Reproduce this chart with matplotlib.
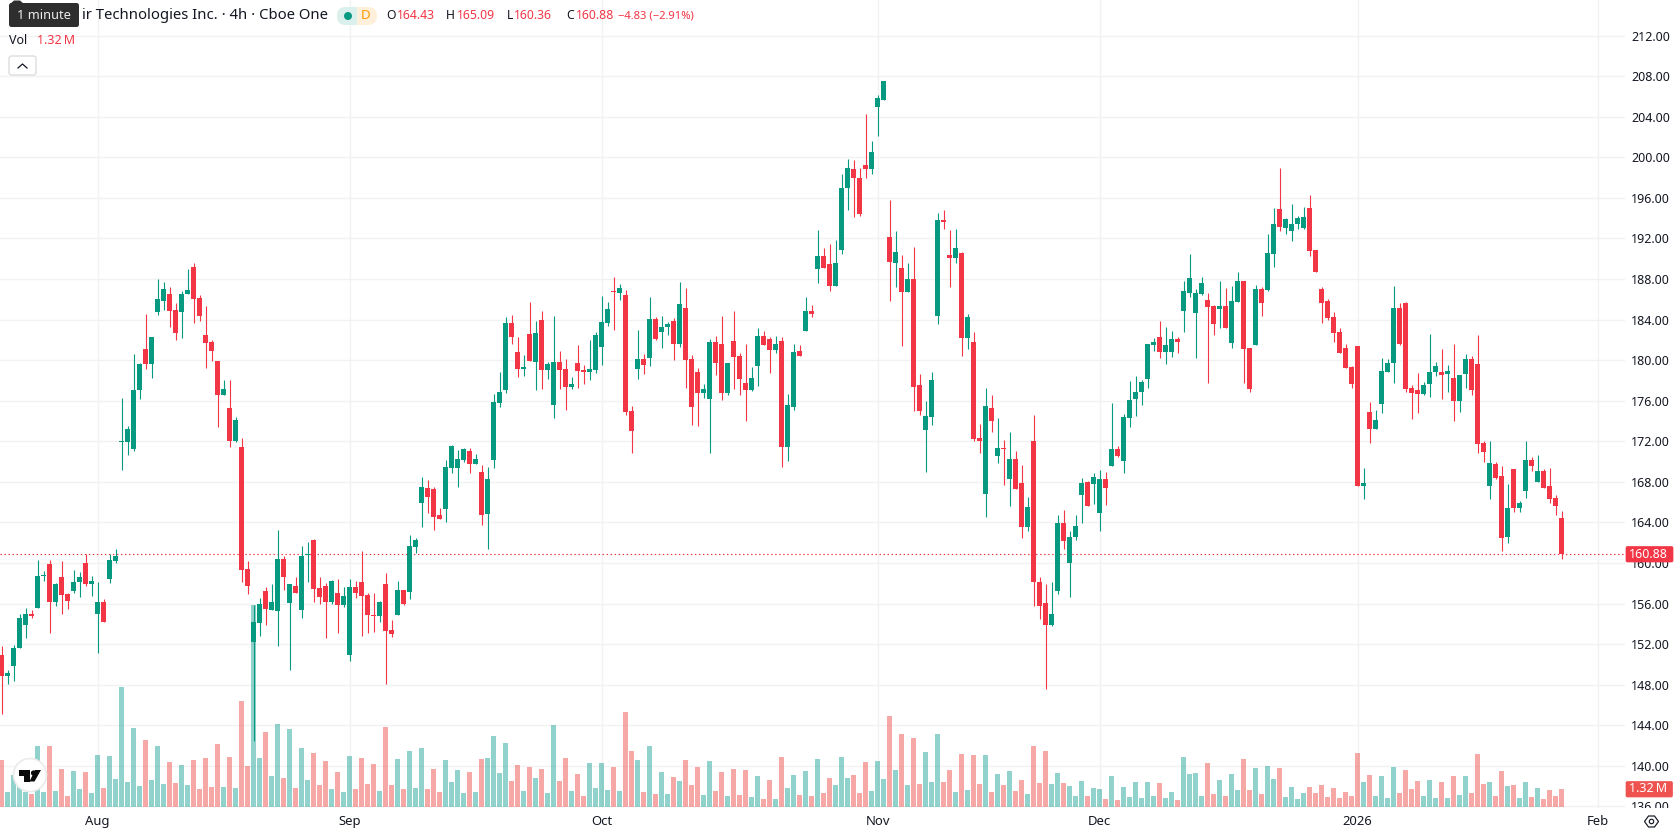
import numpy as np
import matplotlib
matplotlib.use("Agg")
import matplotlib.pyplot as plt
from matplotlib.patches import Rectangle, Circle, FancyBboxPatch, Polygon
from matplotlib.lines import Line2D
from matplotlib.transforms import Affine2D, Bbox

plt.rcParams['font.family'] = ['Noto Sans', 'DejaVu Sans']

W, H = 1678, 835

opens = [
    150.95,148.9,149.8,151.6,153.9,154.95,155.55,158.7,159.85,156.15,
    158.65,156.9,157.2,158.15,159.95,157.9,154.95,156.15,158.45,160.2,
    171.88,171.95,171.25,177.05,181.1,179.65,184.75,185.85,186.55,184.95,
    184.75,186.55,189.15,186.15,182.5,181.8,179.95,176.55,175.3,172.05,
    171.45,159.45,152.25,154.05,157.2,155.35,155.25,160.4,156.05,157.75,
    155.35,160.78,162.3,157.5,157.7,156.2,157.0,155.9,150.95,157.6,
    158.1,156.8,154.85,154.75,157.9,153.4,154.85,157.3,157.1,161.6,
    165.95,167.35,167.25,164.7,165.3,169.4,169.4,170.15,171.05,169.75,
    169.0,164.8,170.15,175.75,177.05,183.65,180.8,179.15,182.6,179.85,
    183.95,179.05,175.55,179.85,179.15,177.35,179.7,179.05,178.85,179.05,
    181.3,183.65,186.8,186.6,186.45,174.95,179.15,180.15,180.25,184.05,
    182.75,183.25,183.85,181.6,185.15,180.15,178.85,176.8,176.15,181.8,
    181.6,176.75,181.9,180.45,177.75,177.05,179.45,182.4,182.1,181.0,
    181.9,171.45,175.35,180.9,182.9,184.85,189.0,190.3,189.5,187.35,
    190.9,197.0,198.8,198.0,199.25,198.8,205.0,205.65,192.15,189.6,
    189.1,186.75,188.0,177.5,173.1,174.4,184.4,193.8,190.4,190.1,
    190.55,182.15,181.8,172.35,166.85,175.25,170.55,171.25,168.25,170.25,
    167.85,163.55,172.05,158.15,156.05,153.85,157.25,163.9,159.95,162.6,
    166.75,167.95,167.75,164.9,168.25,169.55,171.25,170.05,174.25,176.2,
    176.85,178.15,181.45,182.25,180.85,180.85,182.05,184.85,186.65,184.65,
    186.55,185.95,185.35,185.05,185.35,181.65,185.75,187.85,181.15,181.45,
    187.05,186.95,190.45,194.95,193.0,192.75,193.4,193.0,195.0,190.85,
    187.05,185.85,184.3,182.75,181.2,179.35,181.4,167.55,174.85,173.25,
    175.65,178.85,179.75,185.15,185.65,177.3,177.1,176.7,177.65,178.85,
    178.85,178.65,178.25,175.95,178.65,180.15,179.65,171.85,167.55,169.75,
    168.55,162.6,169.3,165.4,167.1,170.15,167.95,169.05,167.55,166.4,164.43,
]
closes = [
    148.9,149.2,151.65,154.55,154.95,154.75,158.75,158.75,156.15,157.9,
    156.8,156.25,158.15,158.65,157.9,158.25,156.15,154.2,160.3,160.7,
    171.92,173.2,177.05,179.65,179.65,182.3,186.05,187.05,184.85,182.7,
    186.55,186.95,186.05,184.35,181.7,180.9,176.55,177.15,172.05,174.1,
    159.35,157.7,154.2,156.0,155.45,156.2,160.4,158.65,157.9,157.05,
    160.7,160.82,157.4,156.6,156.2,158.2,155.9,156.7,157.6,157.0,
    156.7,154.85,154.8,156.15,153.3,153.0,157.3,156.0,161.7,162.3,
    167.45,166.55,164.5,164.3,169.5,171.5,170.25,171.25,169.75,170.25,
    164.7,168.25,175.85,176.9,183.65,182.25,179.15,179.35,179.95,182.7,
    179.05,179.65,179.85,179.05,177.35,177.65,178.95,178.85,179.15,182.5,
    183.8,185.0,186.75,187.15,174.85,173.0,180.15,179.55,184.05,182.1,
    183.25,183.55,181.6,185.55,180.05,175.35,176.75,177.2,181.8,179.75,
    176.75,179.75,180.35,178.1,177.05,178.25,182.4,181.5,181.0,181.6,
    171.45,175.55,180.8,180.4,184.85,184.55,190.3,189.1,187.35,189.6,
    197.0,198.9,198.0,194.45,198.8,200.55,205.85,207.55,189.7,190.65,
    186.75,188.0,177.4,174.95,174.5,178.05,193.8,193.6,190.1,191.05,
    182.15,184.25,172.25,172.05,175.45,173.95,171.35,171.2,170.25,167.25,
    163.55,165.5,158.15,155.75,153.85,154.95,163.9,162.15,162.6,163.6,
    167.85,165.65,168.45,168.25,167.35,171.25,170.55,174.35,176.1,176.9,
    177.85,181.55,181.75,180.85,181.45,182.05,181.75,186.85,188.05,186.65,
    187.65,185.25,183.55,185.35,183.15,185.85,187.85,181.05,177.2,187.05,
    185.65,190.55,193.4,193.1,193.9,193.4,194.0,194.1,190.75,188.7,
    185.65,184.15,182.65,180.7,179.25,177.65,167.55,167.85,173.25,174.05,
    178.95,179.75,185.15,181.6,177.2,176.8,176.7,177.55,178.85,179.45,
    178.55,178.95,175.95,178.55,180.15,177.1,171.75,170.95,169.85,168.35,
    162.5,165.4,165.4,165.9,170.15,169.55,169.05,167.35,166.3,165.6,160.88,
]
highs = [
    151.85,149.45,151.95,155.0,155.6,155.35,160.3,159.2,160.25,158.0,
    160.15,157.0,159.35,159.15,160.9,158.75,158.15,156.4,160.9,161.4,
    176.3,173.5,180.6,179.75,184.5,182.3,188.0,187.75,187.25,185.65,
    186.85,188.95,189.55,186.45,185.35,182.0,179.95,178.05,178.0,174.4,
    172.35,160.15,155.85,156.5,157.6,157.95,163.25,160.7,157.9,158.65,
    161.7,162.1,162.35,158.65,158.0,158.3,158.45,157.6,158.4,158.2,
    161.15,157.0,157.0,156.25,159.0,154.4,158.25,157.3,162.75,162.5,
    168.5,168.15,167.45,165.4,170.2,171.6,171.15,171.35,171.35,170.75,
    169.7,169.5,176.65,178.8,184.3,184.45,182.25,180.55,185.75,183.9,
    184.85,179.85,184.35,180.9,180.15,178.3,181.5,179.55,182.0,182.8,
    186.35,185.75,188.2,187.5,186.9,175.45,183.0,180.65,186.25,184.25,
    184.35,183.75,184.15,187.7,187.1,180.55,179.25,177.6,182.1,182.4,
    184.35,179.75,184.85,180.75,181.6,179.35,183.2,182.9,182.3,182.4,
    182.3,176.65,181.6,181.5,186.25,185.45,192.8,191.05,191.45,191.85,
    198.4,199.85,199.75,198.95,204.25,201.6,206.15,207.55,195.75,192.7,
    190.4,189.6,191.2,178.6,175.95,178.85,194.5,194.8,192.85,192.95,
    190.65,184.55,182.75,173.7,177.3,176.6,174.3,172.15,172.9,171.05,
    169.65,166.5,174.6,158.65,157.9,158.1,164.7,165.2,163.2,164.7,
    168.35,168.05,168.85,169.15,168.95,175.8,171.55,174.65,177.9,178.4,
    178.0,181.55,182.15,183.85,183.25,182.85,182.25,187.85,190.5,187.05,
    188.15,186.65,185.45,187.85,187.15,187.3,188.65,187.85,181.15,187.45,
    187.25,192.45,195.0,198.95,194.0,195.35,194.2,195.1,196.3,190.85,
    187.25,186.05,184.7,183.15,181.6,179.45,181.4,169.4,175.85,175.1,
    180.2,180.15,187.3,185.65,185.75,177.5,178.75,177.8,182.55,179.85,
    181.1,179.55,181.6,178.55,180.65,180.4,182.5,172.0,172.0,169.95,
    169.55,167.75,169.3,166.1,172.0,170.45,170.65,169.25,169.4,166.7,165.09,
]
lows = [
    145.1,148.05,148.4,151.6,152.65,154.6,155.55,158.25,153.1,155.75,
    154.95,155.45,157.0,156.6,157.7,156.7,151.15,154.2,158.0,159.95,
    169.2,170.65,171.05,176.15,179.15,178.25,184.45,184.95,183.25,182.0,
    182.15,186.55,183.65,183.85,179.25,179.95,173.45,176.55,171.45,171.95,
    158.1,156.9,142.4,152.8,153.9,155.35,151.85,157.3,149.45,157.05,
    154.55,158.1,156.2,156.0,152.6,156.0,153.05,155.7,150.3,156.5,
    152.8,153.05,153.2,154.15,148.05,152.75,154.85,155.85,156.4,161.0,
    163.55,164.9,163.25,164.3,164.0,168.9,167.45,169.95,168.9,169.75,
    163.75,161.35,169.4,175.35,176.75,181.6,178.35,178.45,179.95,177.05,
    177.2,178.1,174.3,177.2,175.1,177.15,177.25,177.65,178.0,178.75,
    179.55,183.35,183.0,185.9,174.55,170.85,178.15,178.65,179.45,182.0,
    181.2,182.5,180.05,181.3,177.3,173.6,173.5,176.3,170.85,178.55,
    176.05,176.55,177.2,176.55,174.0,176.95,177.45,181.5,178.75,180.7,
    169.5,170.05,175.05,180.4,182.9,184.25,187.65,189.1,186.85,187.35,
    190.5,194.8,194.15,194.25,198.0,198.4,202.1,205.65,185.85,187.25,
    181.4,186.75,175.0,174.55,168.95,173.6,183.55,192.9,187.25,189.6,
    180.4,181.1,172.0,170.85,164.5,172.95,169.85,167.65,165.65,167.25,
    162.45,163.15,155.75,154.45,147.55,153.75,156.95,161.35,156.6,162.3,
    163.95,165.65,165.85,163.15,165.75,169.55,170.45,168.85,173.45,174.45,
    175.55,177.25,180.95,180.25,179.65,180.35,180.75,182.75,186.25,180.25,
    186.45,177.75,182.45,183.15,183.15,181.15,185.75,177.75,176.9,181.45,
    184.4,186.8,189.2,192.75,192.45,191.75,192.9,192.9,190.25,188.7,
    183.65,183.95,181.8,180.7,179.25,177.3,167.55,166.35,171.85,173.25,
    174.75,178.85,177.75,181.5,176.9,174.15,174.75,176.55,176.35,178.45,
    176.15,176.85,174.0,174.85,177.25,176.6,170.85,170.0,166.3,168.3,
    161.15,162.0,165.0,165.0,166.4,169.05,167.95,167.35,165.9,164.7,160.36,
]
# Traded volume per 4h bar, millions of shares
volumes_m = [
    3.42,1.08,2.32,1.83,1.08,0.93,4.45,1.08,4.45,1.15,
    2.76,0.78,2.62,1.30,2.54,1.00,3.79,1.37,3.72,2.03,
    8.77,1.81,5.77,1.52,4.89,1.96,4.45,1.66,3.28,1.74,
    3.06,1.59,3.42,1.30,3.57,1.44,4.60,1.44,3.64,1.37,
    7.75,2.98,14.79,3.57,5.47,2.25,6.06,2.10,5.69,1.37,
    4.30,1.96,3.94,1.59,3.35,1.30,2.54,1.08,3.72,1.30,
    3.57,1.66,3.13,1.15,5.84,1.59,3.50,1.30,4.08,1.37,
    4.33,1.32,2.79,1.10,3.45,1.83,2.71,1.03,2.57,1.10,
    3.52,3.59,5.21,2.49,4.69,1.91,3.08,1.17,2.93,2.13,
    2.79,1.03,6.01,1.91,3.59,1.17,2.42,0.81,3.23,1.39,
    3.23,1.25,2.93,1.17,6.97,4.11,3.45,1.10,4.47,0.95,
    2.57,0.95,2.20,1.91,3.45,1.61,2.93,0.88,3.37,1.17,
    2.57,0.81,2.79,0.88,2.71,0.73,2.27,0.59,1.98,0.59,
    3.67,1.39,2.35,0.88,2.64,0.81,3.52,1.03,2.13,1.61,
    3.67,2.13,2.35,1.03,3.30,1.17,3.37,2.05,6.67,2.71,
    5.35,1.61,5.06,1.69,4.03,1.83,5.35,1.83,2.71,1.10,
    3.89,1.25,3.81,1.69,3.81,1.10,2.42,1.61,2.64,1.17,
    1.98,0.95,4.47,1.76,4.11,1.69,2.49,1.76,1.54,0.81,
    1.91,0.81,1.39,1.32,0.59,2.27,0.51,1.47,0.73,1.83,
    0.66,1.83,0.81,1.76,0.66,1.10,0.51,3.67,2.42,2.49,
    0.81,3.23,0.95,1.98,0.81,2.42,1.25,3.52,1.25,2.86,
    0.95,3.01,2.05,2.86,0.73,1.47,0.59,1.03,1.47,1.03,
    1.61,0.73,1.39,0.66,1.10,0.81,3.96,1.83,2.35,0.81,
    2.27,0.66,2.93,1.03,2.71,1.32,1.91,0.81,1.98,0.66,
    1.83,0.66,2.27,0.88,2.27,1.03,3.89,1.69,1.83,0.81,
    2.64,1.54,1.61,0.66,1.83,0.73,1.39,0.59,1.25,0.81,1.32,
]
month_bars = [16, 58, 100, 146, 183, 226, 266]
month_labels = ["Aug", "Sep", "Oct", "Nov", "Dec", "2026", "Feb"]
price_ticks = list(range(136, 213, 4))
last_price = 160.88
last_volume_label = "1.32\u2009M"

UP, DOWN = "#089981", "#F23645"
VOL_UP, VOL_DOWN = "#26A69A", "#EF5350"
GRID = "#F2F2F3"
INK = "#131722"

o, c, hi, lo = map(np.array, (opens, closes, highs, lows))
vol = np.array(volumes_m)
bars = np.arange(len(o))
rising = c >= o

fig = plt.figure(figsize=(W / 100, H / 100), dpi=100, facecolor="white")
rect = [0, (H - 808) / H, 1625 / W, 808 / H]

# One pane, three layers: grid and scales, volume, candles
ax = fig.add_axes(rect, zorder=1)
ax_vol = fig.add_axes(rect, zorder=2, sharex=ax)
ax_px = fig.add_axes(rect, zorder=3, sharex=ax)

xlim = (-0.25, -0.25 + 1625 / 6)
ylim = (135.84, 215.51)
ax.set_xlim(*xlim)
ax.set_ylim(*ylim)
ax_px.set_ylim(*ylim)
ax_vol.set_ylim(-0.0733, 59.15)

for a in (ax_vol, ax_px):
    a.patch.set_visible(False)
    a.axis("off")
for s in ax.spines.values():
    s.set_visible(False)

ax.yaxis.tick_right()
ax.set_yticks(price_ticks)
ax.set_yticklabels([f"{p:.2f}" for p in price_ticks], fontsize=9, color=INK)
for tick_text in ax.get_yticklabels():
    tick_text.set_verticalalignment("center_baseline")
ax.set_xticks(month_bars)
ax.set_xticklabels(month_labels, fontsize=9.4, color=INK)
ax.get_xticklabels()[month_labels.index("2026")].set_fontweight("bold")
ax.tick_params(axis="both", length=0)
ax.tick_params(axis="y", pad=4.6)
ax.tick_params(axis="x", pad=5.0)
ax.grid(True, color=GRID, linewidth=1.0)
ax.set_axisbelow(True)

ax_vol.bar(bars, vol, width=5 / 6, linewidth=0, alpha=0.5,
           color=[VOL_UP if r else VOL_DOWN for r in rising])

ax_px.axhline(last_price, color=DOWN, linewidth=0.85, dashes=(1.2, 2.2), zorder=1)
candle_colors = [UP if r else DOWN for r in rising]
ax_px.vlines(bars, lo, hi, colors=candle_colors, linewidth=0.8, zorder=2)
ax_px.bar(bars, np.maximum(np.abs(c - o), 0.1), bottom=np.minimum(o, c),
          width=5 / 6, color=candle_colors, linewidth=0, zorder=3)

# Screen-space furniture is placed in pixels measured from the top-left corner
px = Affine2D().scale(1, -1).translate(0, H)


def add(artist, z=10):
    artist.set_transform(px)
    artist.set_zorder(z)
    fig.add_artist(artist)
    return artist


def label(x, y, s, z=12, **kw):
    kw.setdefault("va", "center")
    kw.setdefault("ha", "left")
    kw.setdefault("color", INK)
    kw.setdefault("fontsize", 9)
    return fig.text(x, y, s, transform=px, zorder=z, **kw)


# Strip below the pane hides the lower part of the bottom price label
add(Rectangle((1625, 808), 53, 27, facecolor="white", edgecolor="none"), z=9)

# Last-value flags on the price scale
add(FancyBboxPatch((1626, 546.5), 47, 15.5, boxstyle="round,pad=0,rounding_size=1.5",
                   facecolor=DOWN, edgecolor=DOWN, linewidth=0.5))
label(1668, 554, f"{last_price:.2f}", ha="right", color="white", fontsize=9)
add(FancyBboxPatch((1626, 781.5), 46.5, 15.5, boxstyle="round,pad=0,rounding_size=1.5",
                   facecolor="#EF5350", edgecolor="#EF5350", linewidth=0.5))
label(1667, 789, last_volume_label, ha="right", color="white", fontsize=9)

# Header line
label(328, 15.5, "ir Technologies Inc. · 4h · Cboe One", ha="right", fontsize=10.7)

# Status pill: market dot on teal, data-delay letter on orange
pill_box = dict(boxstyle="round,pad=0,rounding_size=9", linewidth=0)
add(FancyBboxPatch((337, 7), 40, 18, facecolor="#FFF0DC", **pill_box))
teal_half = add(FancyBboxPatch((337, 7), 40, 18, facecolor="#D9F0EC", **pill_box), z=10.5)
teal_half.set_clip_box(Bbox([[337, H - 25], [357, H - 7]]))
teal_half.set_clip_on(True)
add(Circle((348, 16), 4, facecolor=UP, edgecolor="none"), z=11)
label(366, 15.5, "D", ha="center", color="#FF9800", fontsize=9.6, fontweight="bold")

legend_parts = [(386, "O", INK, 8.8), (397, "164.43", DOWN, 8.8),
                (446, "H", INK, 8.8), (457, "165.09", DOWN, 8.8),
                (507, "L", INK, 8.8), (514, "160.36", DOWN, 8.8),
                (566, "C", INK, 8.8), (576, "160.88", DOWN, 8.8),
                (618, "−4.83 (−2.91%)", DOWN, 8.1)]
for x, s, col, size in legend_parts:
    label(x, 15.5, s, color=col, fontsize=size)

label(9, 41, "Vol", fontsize=9)
label(37, 41, last_volume_label, color=DOWN, fontsize=9)

# Collapse button
add(FancyBboxPatch((9, 56), 27, 19, boxstyle="round,pad=0,rounding_size=2.5",
                   facecolor="white", edgecolor="#DADADA", linewidth=0.9))
add(Line2D([18, 22.5, 27], [68, 64, 68], color=INK, linewidth=0.9), z=11)

# Duration tooltip sitting over the header
add(FancyBboxPatch((9, 3), 70, 24, boxstyle="round,pad=0,rounding_size=2.5",
                   facecolor="#2E2E2E", edgecolor="none"), z=13)
add(Polygon([[10, 4], [14, 0.5], [20, 0.5], [24, 4]], closed=True,
            facecolor="#2E2E2E", edgecolor="none"), z=13)
label(44, 15.5, "1 minute", ha="center", color="#EDEDED", fontsize=9.2, z=14)

# Platform badge at the lower left
add(Circle((30, 775), 16.5, facecolor="white", edgecolor="#EBEBEB", linewidth=1.2), z=11)
add(Polygon([[19, 770], [30, 770], [30, 781.5], [24, 781.5], [24, 775.5], [19, 775.5]],
            closed=True, facecolor="#0B0B0B", edgecolor="none"), z=12)
add(Circle((33.5, 773), 2.6, facecolor="#0B0B0B", edgecolor="none"), z=12)
add(Polygon([[35, 770], [41, 770], [34.5, 781.5], [29.5, 781.5]],
            closed=True, facecolor="#0B0B0B", edgecolor="none"), z=12)

# Scale settings glyph
add(Polygon([[1644.5, 821.5], [1648.5, 816], [1654.5, 816], [1658.5, 821.5],
             [1654.5, 827], [1648.5, 827]], closed=True,
            facecolor="none", edgecolor=INK, linewidth=0.85), z=11)
add(Circle((1651.5, 821.5), 2.2, facecolor="none", edgecolor=INK, linewidth=0.85), z=11)

fig.savefig("out.png", dpi=100, facecolor="white")
